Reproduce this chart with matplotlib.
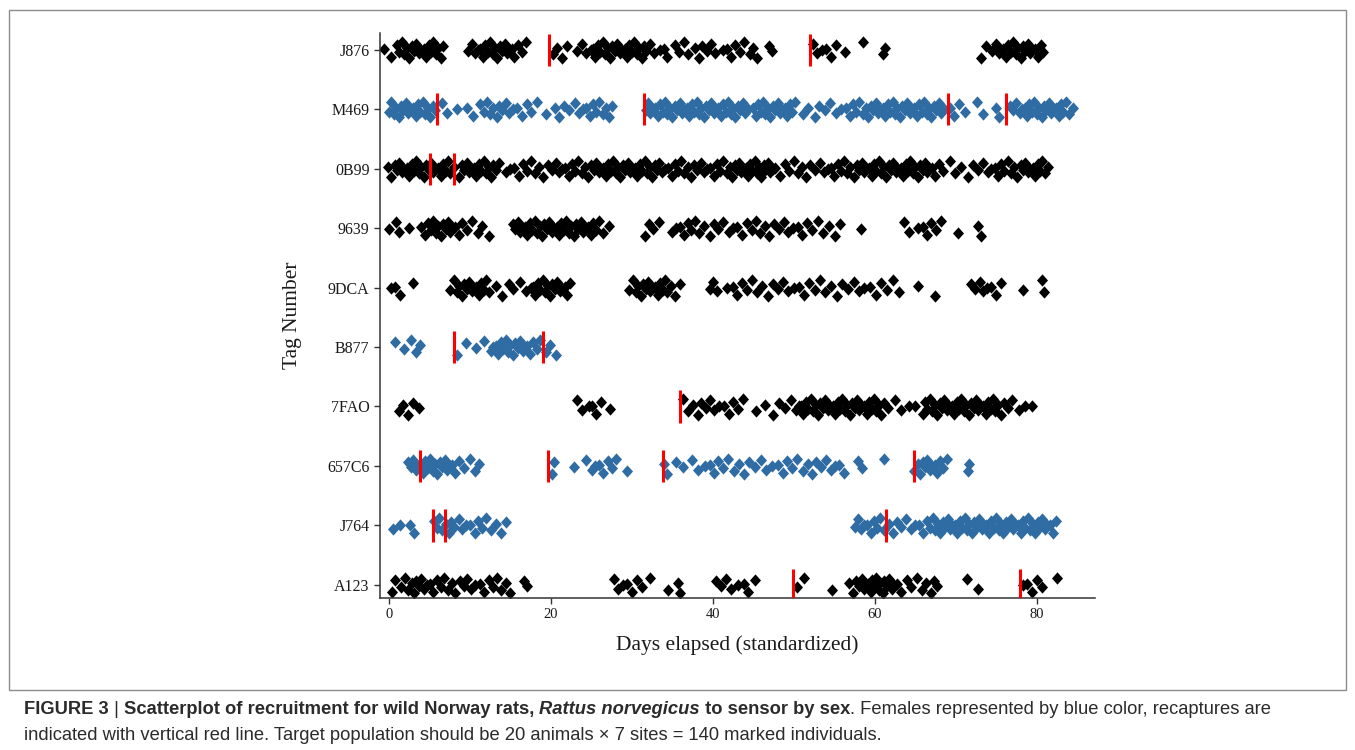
import matplotlib
matplotlib.use("Agg")
import matplotlib.pyplot as plt
from matplotlib.patches import Rectangle
from matplotlib.path import Path
import numpy as np

# ---------------------------------------------------------------------------
# Dados (dias de captura por animal)
# ---------------------------------------------------------------------------
tags = ["J876", "M469", "0B99", "9639", "9DCA", "B877", "7FAO", "657C6", "J764", "A123"]
females = ["M469", "B877", "657C6", "J764"]

days_J876 = [-0.6, 0.2,
             1.0, 1.3, 1.6, 1.9, 2.2, 2.5, 2.8, 3.1, 3.4, 3.7, 4.0, 4.3, 4.6, 4.9, 5.2, 5.5, 5.8, 6.1, 6.4, 6.7,
             9.8, 10.2, 10.6, 11.0, 11.3, 11.6, 11.9, 12.2, 12.5, 12.8, 13.1, 13.4, 13.7, 14.0, 14.3, 14.6,
             14.9, 15.2, 15.5, 15.9, 16.4, 16.9,
             20.3, 20.8, 21.4, 22.0,
             23.2, 23.8, 24.4, 24.9, 25.2, 25.5, 25.8, 26.1, 26.4, 26.7, 27.0, 27.3, 27.6, 27.9, 28.2, 28.5,
             28.8, 29.1, 29.4, 29.7, 30.0, 30.3, 30.6, 30.9, 31.2, 31.5, 31.8, 32.2, 32.7,
             33.5, 34.0, 34.4, 35.3, 35.8, 36.5, 36.9, 37.8, 38.3, 38.7, 39.3, 39.8, 40.3, 41.2, 41.7, 42.3,
             42.8, 43.4, 43.9, 44.6, 45.0, 45.5, 47.0, 47.3,
             52.4, 52.9, 53.5, 54.0, 54.6, 55.2, 56.3, 58.5, 61.0, 61.3,
             73.1, 73.7, 74.5, 75.0, 75.3, 75.6, 75.9, 76.2, 76.5, 76.8, 77.1, 77.4, 77.7, 78.0, 78.3, 78.6,
             78.9, 79.2, 79.5, 79.8, 80.1, 80.5, 80.8]

days_M469 = [0.0, 0.3, 0.6, 0.9, 1.2, 1.5, 1.8, 2.1, 2.4, 2.7, 3.0, 3.3, 3.6, 3.9, 4.2, 4.5, 4.8, 5.1, 5.4, 5.7,
             6.5, 7.2, 8.4, 9.6, 10.4,
             11.2, 11.7, 12.1, 12.5, 12.9, 13.3, 13.6, 14.0, 14.4, 14.8, 15.3, 15.8, 16.4, 17.0, 17.6,
             18.3, 19.4, 20.5, 21.0, 21.6, 22.3, 23.0, 23.5, 24.0, 24.4, 24.8, 25.2, 25.6, 26.0, 26.4, 26.8,
             27.2, 27.6,
             31.7, 32.0, 32.3, 32.6, 32.9, 33.2, 33.5, 33.8, 34.1, 34.4, 34.7, 35.0, 35.3, 35.6, 35.9, 36.2,
             36.5, 36.8, 37.1, 37.4, 37.7, 38.0, 38.3, 38.6, 38.9, 39.2, 39.5, 39.8, 40.1, 40.4, 40.7, 41.0,
             41.3, 41.6, 41.9, 42.2, 42.5, 42.8, 43.1, 43.4, 43.7, 44.0, 44.4,
             45.0, 45.3, 45.6, 45.9, 46.2, 46.5, 46.8, 47.1, 47.4, 47.7, 48.0, 48.3, 48.6, 48.9, 49.2, 49.5,
             49.8, 50.2,
             51.2, 51.8, 52.6, 53.1, 53.9, 54.5, 55.2, 55.8,
             56.4, 56.9, 57.3, 57.7, 58.1, 58.5, 58.9, 59.2, 59.5, 59.8, 60.1, 60.4, 60.7, 61.0, 61.3, 61.6,
             61.9, 62.2, 62.5, 62.8, 63.1, 63.4, 63.7, 64.0, 64.3, 64.6, 64.9, 65.2, 65.5, 65.8, 66.1, 66.4,
             66.7, 67.0, 67.3, 67.6, 67.9, 68.2, 68.6,
             69.3, 69.8, 70.4, 71.2, 72.6, 73.4, 75.0, 75.3,
             76.7, 77.1, 77.5, 77.9, 78.2, 78.5, 78.8, 79.1, 79.4, 79.7, 80.0, 80.3, 80.6, 80.9, 81.2, 81.5,
             81.8, 82.1, 82.4, 82.7, 83.0, 83.3, 83.6, 84.0, 84.5]

days_0B99 = [-0.1, 0.3, 0.7, 1.0, 1.3, 1.6, 1.9, 2.2, 2.5, 2.8, 3.1, 3.4, 3.7, 4.0, 4.3, 4.6, 4.9, 5.2, 5.5,
             5.8, 6.1, 6.4, 6.7, 7.0, 7.3, 7.6, 8.0, 8.6, 9.0, 9.3, 9.6, 9.9, 10.2, 10.5, 10.8, 11.1, 11.4,
             11.7, 12.0, 12.3, 12.6, 12.9, 13.2, 13.6,
             14.4, 15.0, 15.5, 16.1, 16.6, 17.0, 17.5, 18.0, 18.5, 19.0, 19.6,
             20.2, 20.6, 21.0, 21.4, 21.8, 22.2, 22.6, 23.0, 23.4, 23.8, 24.2, 24.6, 25.0, 25.3, 25.6, 25.9,
             26.2, 26.5, 26.8, 27.1, 27.4, 27.7, 28.0, 28.3, 28.6, 28.9, 29.2, 29.5, 29.8, 30.1, 30.4, 30.7,
             31.0, 31.3, 31.6, 31.9, 32.2, 32.5, 32.8, 33.1, 33.4, 33.7,
             34.1, 34.5, 34.9, 35.3, 35.7, 36.1, 36.5, 36.9, 37.3, 37.7, 38.1, 38.5, 38.9, 39.3, 39.7, 40.1,
             40.5, 40.9, 41.3, 41.7,
             42.1, 42.4, 42.7, 43.0, 43.2, 43.5, 43.8, 44.1, 44.3, 44.6, 44.9, 45.2, 45.4, 45.7, 46.0, 46.3,
             46.5, 46.8, 47.1, 47.4, 47.7,
             48.3, 48.9, 49.4, 50.0, 50.5, 51.0, 51.5, 52.0, 52.6, 53.2, 53.7,
             54.2, 54.6, 55.0, 55.4, 55.8, 56.2, 56.6, 57.0, 57.4, 57.8, 58.1, 58.4, 58.7, 59.0, 59.3, 59.6,
             59.9, 60.2, 60.5, 60.8, 61.1, 61.4, 61.7, 62.0, 62.3, 62.6, 62.9, 63.2, 63.5, 63.8, 64.1, 64.4,
             64.7, 65.0, 65.3, 65.6, 65.9, 66.2, 66.5, 66.8, 67.1, 67.5, 67.9, 68.4,
             69.3, 69.9, 70.6, 71.5, 72.1, 72.8, 73.4,
             74.0, 74.4, 74.8, 75.2, 75.6, 76.0, 76.4, 76.8, 77.2, 77.6, 78.0, 78.3, 78.6, 78.9, 79.2, 79.5,
             79.8, 80.1, 80.4, 80.7, 81.0, 81.4]

days_9639 = [0.0, 0.9, 1.3, 2.5,
             4.0, 4.4, 4.8, 5.2, 5.5, 5.8, 6.1, 6.4, 6.7, 7.0, 7.3, 7.6, 7.9, 8.2, 8.6, 9.0, 9.6, 10.3,
             11.0, 11.5, 12.4,
             15.3, 15.6, 15.9, 16.2, 16.5, 16.8, 17.1, 17.4, 17.7, 18.0, 18.3, 18.6, 18.9, 19.2, 19.5, 19.8,
             20.1, 20.4, 20.7, 21.0, 21.3, 21.6, 21.9, 22.2, 22.5, 22.8, 23.1, 23.4, 23.7, 24.0, 24.3, 24.6,
             24.9, 25.2, 25.6, 26.0, 26.5, 27.2,
             31.6, 32.1, 32.6, 33.3,
             35.0, 35.5, 36.0, 36.4, 36.9, 37.3, 37.8, 38.3, 38.9, 39.6, 40.2, 40.7, 41.3, 42.0, 42.5, 43.0,
             43.6, 44.2, 44.8, 45.3, 45.8, 46.4, 47.0, 47.6, 48.2, 48.8, 49.3, 49.9, 50.5, 51.0, 51.6, 52.2,
             53.0, 53.6, 54.3, 55.1, 55.7, 58.3,
             63.6, 64.2, 65.4, 65.9, 66.5, 67.0, 67.6, 68.2, 70.3, 72.8, 73.1]

days_9DCA = [0.2, 0.7, 1.4, 3.0,
             7.6, 8.0, 8.4, 8.7, 9.0, 9.3, 9.6, 9.9, 10.2, 10.5, 10.8, 11.1, 11.4, 11.7, 12.0, 12.4,
             13.2, 14.0, 14.8, 15.3, 16.2, 16.9,
             17.5, 17.8, 18.1, 18.4, 18.7, 19.0, 19.3, 19.6, 19.9, 20.2, 20.5, 20.8, 21.1, 21.4, 21.7, 22.0,
             22.4,
             29.7, 30.1, 30.5, 30.8, 31.1, 31.4, 31.7, 32.0, 32.3, 32.6, 32.9, 33.2, 33.5, 33.8, 34.1, 34.4,
             34.8, 35.3, 35.9,
             39.6, 40.0, 40.5, 41.8, 42.5, 43.0, 43.6, 44.2, 44.8, 45.5, 46.1, 46.8, 47.4, 48.0, 48.7, 49.3,
             50.0, 50.6, 51.3, 51.9, 52.6, 53.2, 53.9, 54.6, 55.3, 56.0, 56.7, 57.4, 58.1, 58.7, 59.4, 60.1,
             60.8, 61.5, 62.2, 63.0, 65.4, 67.5,
             71.9, 72.4, 73.0, 73.4, 73.9, 74.4, 75.0, 75.6, 78.3, 80.6, 80.9]

days_B877 = [0.8, 1.9, 2.7, 3.3, 3.8,
             8.4, 9.5, 10.7, 11.8,
             12.6, 12.9, 13.2, 13.5, 13.8, 14.1, 14.4, 14.7, 15.0, 15.3, 15.6, 15.9, 16.2, 16.5, 16.8, 17.1,
             17.4, 17.8, 18.3, 18.7,
             19.4, 19.9, 20.6]

days_7FAO = [1.3, 1.8, 2.4, 3.0, 3.7,
             23.2, 23.8, 24.7, 25.1, 25.6, 26.2, 27.3,
             36.3, 36.9, 37.6, 38.2, 38.6, 39.1, 39.6, 40.2, 40.8, 41.4, 42.0, 42.5, 43.1, 43.7,
             45.3, 46.4, 47.4, 48.2, 48.9, 49.7,
             50.3, 50.6, 50.9, 51.2, 51.5, 51.8, 52.1, 52.4, 52.7, 53.0, 53.3, 53.6, 53.9, 54.2, 54.5, 54.8,
             55.1, 55.4, 55.7, 56.0, 56.3, 56.6, 56.9, 57.2, 57.5, 57.8, 58.1, 58.4, 58.7, 59.0, 59.3, 59.6,
             59.9, 60.2, 60.5, 60.8, 61.2, 61.6,
             62.5, 63.3, 64.2, 65.0,
             65.9, 66.2, 66.5, 66.8, 67.1, 67.4, 67.7, 68.0, 68.3, 68.6, 68.9, 69.2, 69.5, 69.8, 70.1, 70.4,
             70.7, 71.0, 71.3, 71.6, 71.9, 72.2, 72.5, 72.8, 73.1, 73.4, 73.7, 74.0, 74.3, 74.6, 74.9, 75.2,
             75.6, 76.0, 76.5, 76.9,
             77.8, 78.6, 79.4]

days_657C6 = [2.3, 2.7, 3.0, 3.3, 3.6, 3.9, 4.2, 4.5, 4.8, 5.1, 5.4, 5.7, 6.0, 6.3, 6.6, 6.9, 7.2, 7.5, 7.8,
              8.2, 8.7, 9.3, 10.0, 10.6, 11.1,
              20.1, 20.4, 22.8, 24.3, 25.1, 25.5, 26.0, 26.4, 27.0, 27.5, 28.1, 29.4,
              34.0, 34.3, 35.5, 36.3, 37.4, 38.2, 39.0, 39.6, 40.2, 40.7, 41.2, 41.9, 42.6, 43.2, 43.8, 44.5,
              45.2, 46.0, 46.6, 47.3, 48.0, 48.7, 49.2, 49.8, 50.4, 51.1, 51.7, 52.3, 52.8, 53.4, 54.0, 54.6,
              55.1, 55.6, 56.2, 57.9, 58.4, 61.2,
              64.9, 65.3, 65.6, 65.9, 66.2, 66.5, 66.8, 67.1, 67.4, 67.7, 68.0, 68.4, 68.9, 71.5, 71.7]

days_J764 = [0.5, 1.4, 2.6, 3.1,
             5.6, 5.9, 6.2, 6.6, 7.1, 7.4, 7.7, 8.1, 8.6, 9.0, 9.5, 10.0, 10.6, 11.0, 11.5, 12.0, 12.6, 13.2,
             13.9, 14.5,
             57.5, 57.9, 58.3, 58.7, 59.1, 59.5, 59.9, 60.3, 60.7, 61.1,
             61.7, 62.2, 62.8, 63.3, 63.9, 64.5, 65.0, 65.5, 66.0, 66.4, 66.8, 67.2, 67.5, 67.8, 68.1, 68.4,
             68.7, 69.0, 69.3, 69.6, 69.9, 70.2, 70.5, 70.8, 71.1, 71.4, 71.7, 72.0, 72.3, 72.6, 72.9, 73.2,
             73.5, 73.8, 74.1, 74.4, 74.7, 75.0, 75.3, 75.6, 75.9, 76.2, 76.5, 76.8, 77.1, 77.4, 77.7, 78.0,
             78.3, 78.6, 78.9, 79.2, 79.5, 79.8, 80.1, 80.4, 80.7, 81.0, 81.3, 81.6, 82.0, 82.4]

days_A123 = [0.4, 0.7, 1.5, 2.0, 2.4, 2.8, 3.1, 3.4, 3.7, 4.0, 4.3, 4.7, 5.1, 5.5, 5.9, 6.4, 6.8, 7.3, 7.8,
             8.2, 8.8, 9.3, 9.7, 10.1, 10.6, 11.2, 11.7, 12.3, 12.8, 13.3, 13.8, 14.5, 15.0, 16.7, 17.0,
             27.8, 28.3, 28.9, 29.4, 30.0, 30.6, 31.3, 32.2, 34.5, 35.7, 36.0,
             40.4, 41.0, 41.6, 42.2, 43.1, 43.8, 44.4, 45.2,
             50.4, 51.3, 54.7, 56.8,
             57.3, 57.7, 58.1, 58.4, 58.7, 59.0, 59.2, 59.5, 59.7, 60.0, 60.2, 60.5, 60.7, 61.0, 61.2, 61.5,
             61.8, 62.1, 62.4, 62.8, 63.3,
             64.0, 64.5, 65.2, 65.8, 66.3, 66.9, 67.3, 67.7,
             71.4, 72.7,
             78.3, 78.8, 79.4, 80.0, 80.6, 82.5]

# recapturas (linhas verticais vermelhas)
recap_J876 = [19.8, 52.0]
recap_M469 = [6.0, 31.5, 69.0, 76.2]
recap_0B99 = [5.1, 8.0]
recap_9639 = []
recap_9DCA = []
recap_B877 = [8.0, 19.0]
recap_7FAO = [36.0]
recap_657C6 = [3.8, 19.7, 33.8, 64.8]
recap_J764 = [5.5, 6.9, 61.4]
recap_A123 = [49.9, 77.9]

x_ticks = [0, 20, 40, 60, 80]

dias = {"J876": days_J876, "M469": days_M469, "0B99": days_0B99, "9639": days_9639,
        "9DCA": days_9DCA, "B877": days_B877, "7FAO": days_7FAO, "657C6": days_657C6,
        "J764": days_J764, "A123": days_A123}
recapturas = {"J876": recap_J876, "M469": recap_M469, "0B99": recap_0B99, "9639": recap_9639,
              "9DCA": recap_9DCA, "B877": recap_B877, "7FAO": recap_7FAO, "657C6": recap_657C6,
              "J764": recap_J764, "A123": recap_A123}

# ---------------------------------------------------------------------------
# Estilo
# ---------------------------------------------------------------------------
PRETO = "#000000"
AZUL = "#2f6ca3"
VERMELHO = "#ff0000"
TINTA = "#1a1a1a"
SERIFA = "Liberation Serif"

# losango um pouco mais alto que largo (como o shape 18 do ggplot)
LOSANGO = Path([(0, 1), (0.9, 0), (0, -1), (-0.9, 0), (0, 1)],
               [Path.MOVETO, Path.LINETO, Path.LINETO, Path.LINETO, Path.CLOSEPOLY])

# padrão fixo de jitter vertical (efeito visual em zigue-zague, não é dado)
PADRAO_JITTER = [0.1, -0.9, 0.6, -0.3, 0.9, -0.6, 0.2, -1.0, 0.45, -0.15, 0.75, -0.45, 0.0]

W, H = 1355, 750
fig = plt.figure(figsize=(W / 100, H / 100), dpi=100, facecolor="white")
ax = fig.add_axes([380 / W, 1 - 598 / H, (1095 - 380) / W, (598 - 33) / H])

n = len(tags)
for i, tag in enumerate(tags):
    y0 = n - i
    xs = np.array(dias[tag])
    desloc = np.array([PADRAO_JITTER[(k + 3 * i) % len(PADRAO_JITTER)] for k in range(len(xs))]) * 0.135
    cor = AZUL if tag in females else PRETO
    ax.scatter(xs, y0 + desloc, marker=LOSANGO, s=78, color=cor, linewidths=0, zorder=2)
    for r in recapturas[tag]:
        ax.plot([r, r], [y0 - 0.27, y0 + 0.27], color=VERMELHO, linewidth=2.2,
                solid_capstyle="butt", zorder=3)

ax.set_xlim(-1.1, 87.2)
ax.set_ylim(0.78, n + 0.28)
ax.set_yticks(range(n, 0, -1))
ax.set_yticklabels(tags, fontfamily=SERIFA, fontsize=11.5, color=TINTA)
ax.set_xticks(x_ticks)
ax.set_xticklabels([str(t) for t in x_ticks], fontfamily=SERIFA, fontsize=10.5, color=TINTA)
for lado in ("top", "right"):
    ax.spines[lado].set_visible(False)
for lado in ("bottom", "left"):
    ax.spines[lado].set_color("#333333")
    ax.spines[lado].set_linewidth(1.1)
ax.tick_params(colors="#333333", length=4, width=1, labelcolor=TINTA)
ax.set_xlabel("Days elapsed (standardized)", fontfamily=SERIFA, fontsize=15.5, color=TINTA, labelpad=10)
ax.set_ylabel("Tag Number", fontfamily=SERIFA, fontsize=15.5, color=TINTA, labelpad=18)

# moldura da figura
fig.patches.append(Rectangle((9 / W, 1 - 690 / H), (1346 - 9) / W, (690 - 10) / H,
                             transform=fig.transFigure, fill=False, edgecolor="#8c8c8c", linewidth=1))

# legenda (texto com estilos mistos)
linha1 = [("FIGURE 3", "bold", "normal"), (" | ", "normal", "normal"),
          ("Scatterplot of recruitment for wild Norway rats, ", "bold", "normal"),
          ("Rattus norvegicus", "bold", "italic"), (" to sensor by sex", "bold", "normal"),
          (". Females represented by blue color, recaptures are", "normal", "normal")]
linha2 = [("indicated with vertical red line. Target population should be 20 animals \u00d7 7 sites "
           "= 140 marked individuals.", "normal", "normal")]

renderer = fig.canvas.get_renderer()
for linha, ypix in ((linha1, 714), (linha2, 740)):
    x = 24
    for texto, peso, estilo in linha:
        t = fig.text(x / W, 1 - ypix / H, texto, fontfamily="Liberation Sans", fontsize=13.2,
                     fontweight=peso, fontstyle=estilo, color="#2b2b2b", va="baseline", ha="left")
        x = t.get_window_extent(renderer).x1

fig.savefig("out.png", dpi=100, facecolor="white")
